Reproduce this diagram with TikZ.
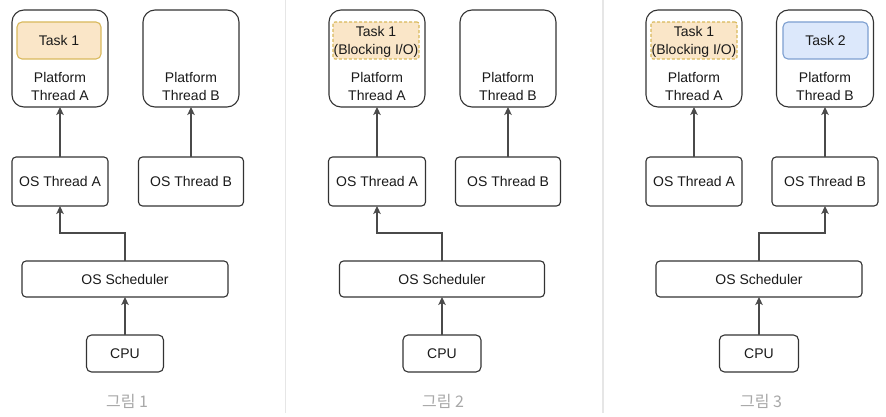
\documentclass[tikz,border=0pt]{standalone}
\usepackage{fontspec}
\setmainfont{Liberation Sans}
\newfontfamily\krfont{Noto Sans CJK KR}
\usetikzlibrary{arrows.meta}
\definecolor{boxline}{HTML}{333333}
\definecolor{arrline}{HTML}{4A4A4A}
\definecolor{taskfill}{HTML}{FAE6C8}
\definecolor{taskline}{HTML}{D9B95C}
\definecolor{bluefill}{HTML}{DCE8FB}
\definecolor{blueline}{HTML}{7D9FD0}
\definecolor{sepline}{HTML}{E6E6E6}
\definecolor{captioncol}{HTML}{A8A8A8}
\definecolor{txt}{HTML}{1A1A1A}
\tikzset{
  base/.style={draw=boxline, line width=1.1pt, inner sep=0pt, outer sep=0pt, text=txt,
    font=\fontsize{14}{18}\selectfont, align=center},
  platbox/.style={base, rounded corners=12pt, minimum width=96pt, minimum height=97pt},
  smallbox/.style={base, rounded corners=4pt, minimum height=49pt},
  schedbox/.style={base, rounded corners=4pt, minimum width=206pt, minimum height=36pt},
  cpubox/.style={base, rounded corners=5pt, minimum width=77pt, minimum height=37pt},
  taskbox/.style={base, draw=taskline, fill=taskfill, rounded corners=5pt, minimum height=37pt},
  blockbox/.style={taskbox, dashed, dash pattern=on 3pt off 2pt, rounded corners=2pt},
  bluebox/.style={base, draw=blueline, fill=bluefill, rounded corners=5pt, minimum height=37pt},
  plattext/.style={text=txt, font=\fontsize{14}{18}\selectfont, align=center, inner sep=0pt},
  arr/.style={draw=arrline, line width=1.1pt, -{Stealth[length=8pt,width=7.5pt,inset=2pt]}},
  figcaption/.style={text=captioncol, font=\krfont\fontsize{16}{18}\selectfont, inner sep=0pt},
  sepstyle/.style={draw=sepline, line width=1.3pt}
}
\begin{document}
\begin{tikzpicture}[x=1pt, y=-1pt]
\useasboundingbox (0,0) rectangle (886,417);
\fill[white] (0,0) rectangle (886,417);
% separators
\coordinate (s1t) at (285.5,0); \coordinate (s1b) at (285.5,413);
\coordinate (s2t) at (603,0); \coordinate (s2b) at (603,413);
\draw[sepstyle] (s1t) -- (s1b);
\draw[sepstyle] (s2t) -- (s2b);

% ---------- Panel 1 ----------
\node[platbox] (pa1) at (60,58.5) {};
\node[taskbox, minimum width=84pt] (t1) at (59,40.5) {Task 1};
\node[plattext] (pa1t) at (60,86) {Platform\\Thread A};
\node[platbox] (pb1) at (191,58.5) {};
\node[plattext] (pb1t) at (191,86) {Platform\\Thread B};
\node[smallbox, minimum width=96pt] (oa1) at (60,181.5) {OS Thread A};
\node[smallbox, minimum width=105pt] (ob1) at (191,181.5) {OS Thread B};
\node[schedbox] (sc1) at (125,279) {OS Scheduler};
\node[cpubox] (cpu1) at (125,353.5) {CPU};
\node[figcaption] (c1) at (127,401) {그림 1};
\coordinate (j1) at (125,233);
\draw[arr] (cpu1.north) -- (sc1.south);
\draw[arr] (sc1.north) -- (j1) -| (oa1.south);
\draw[arr] (oa1.north) -- (pa1.south);
\draw[arr] (ob1.north) -- (pb1.south);

% ---------- Panel 2 ----------
\node[platbox] (pa2) at (377,58.5) {};
\node[blockbox, minimum width=86pt] (t2) at (376,40.5) {};
\node[plattext] (t2t) at (376,41.5) {Task 1\\[0pt](Blocking I/O)};
\node[plattext] (pa2t) at (377,86) {Platform\\Thread A};
\node[platbox] (pb2) at (508,58.5) {};
\node[plattext] (pb2t) at (508,86) {Platform\\Thread B};
\node[smallbox, minimum width=97pt] (oa2) at (377,181.5) {OS Thread A};
\node[smallbox, minimum width=105pt] (ob2) at (508,181.5) {OS Thread B};
\node[schedbox, minimum width=205pt] (sc2) at (442,279) {OS Scheduler};
\node[cpubox, minimum width=78pt] (cpu2) at (442,353.5) {CPU};
\node[figcaption] (c2) at (443,401) {그림 2};
\coordinate (j2) at (442,233);
\draw[arr] (cpu2.north) -- (sc2.south);
\draw[arr] (sc2.north) -- (j2) -| (oa2.south);
\draw[arr] (oa2.north) -- (pa2.south);
\draw[arr] (ob2.north) -- (pb2.south);

% ---------- Panel 3 ----------
\node[platbox] (pa3) at (694,58.5) {};
\node[blockbox, minimum width=86pt] (t3) at (694,40.5) {};
\node[plattext] (t3t) at (694,41.5) {Task 1\\[0pt](Blocking I/O)};
\node[plattext] (pa3t) at (694,86) {Platform\\Thread A};
\node[platbox, minimum width=97pt] (pb3) at (825,58.5) {};
\node[bluebox, minimum width=85pt] (t4) at (825.5,40.5) {Task 2};
\node[plattext] (pb3t) at (825,86) {Platform\\Thread B};
\node[smallbox, minimum width=96pt] (oa3) at (694,181.5) {OS Thread A};
\node[smallbox, minimum width=106pt] (ob3) at (825,181.5) {OS Thread B};
\node[schedbox] (sc3) at (759,279) {OS Scheduler};
\node[cpubox, minimum width=79pt] (cpu3) at (759,353.5) {CPU};
\node[figcaption] (c3) at (761,401) {그림 3};
\coordinate (j3) at (759,233);
\draw[arr] (cpu3.north) -- (sc3.south);
\draw[arr] (sc3.north) -- (j3) -| (ob3.south);
\draw[arr] (oa3.north) -- (pa3.south);
\draw[arr] (ob3.north) -- (pb3.south);
\end{tikzpicture}
\end{document}
